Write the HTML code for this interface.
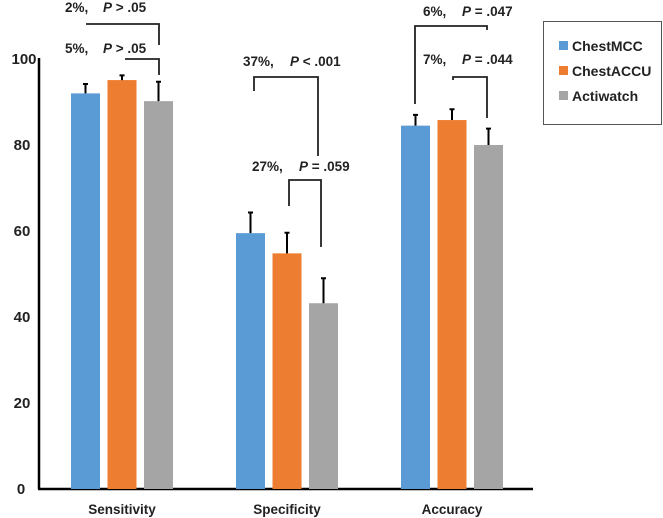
<!DOCTYPE html>
<html><head><meta charset="utf-8"><style>
body{margin:0;background:#fff}
svg{display:block;font-family:"Liberation Sans",sans-serif;font-weight:bold}
</style></head><body>
<svg width="663" height="518" viewBox="0 0 663 518" id="c">
<g id="marks"></g>
</svg>
<script>
const categories=["Sensitivity","Specificity","Accuracy"];
const series=["ChestMCC","ChestACCU","Actiwatch"];
const mccValues=[92.0,59.5,84.5];
const accuValues=[95.1,54.8,85.8];
const actiValues=[90.2,43.2,80.0];
const mccErr=[2.2,4.8,2.5];
const accuErr=[1.1,4.8,2.5];
const actiErr=[4.5,5.8,3.8];
const yTicks=[0,20,40,60,80,100];
const colors=["#5b9bd5","#ed7d31","#a5a5a5"];
const ns="http://www.w3.org/2000/svg";
const svg=document.getElementById('c');
const g=document.getElementById('marks');
const y0=489,ppu=4.3;
const y=v=>y0-v*ppu;
const groupX=i=>122+i*165;
const barW=29,step=36.5;
function mk(tag,attrs,parent){const e=document.createElementNS(ns,tag);for(const k in attrs)e.setAttribute(k,attrs[k]);(parent||g).appendChild(e);return e;}
let a=mk('line',{x1:39,y1:y(100)-1,x2:39,y2:y0,stroke:'#000','stroke-width':2.5});


a=mk('line',{x1:38,y1:y0,x2:533,y2:y0,stroke:'#000','stroke-width':2.5});


yTicks.forEach(t=>{const e=mk('text',{x:t===100?24:(t===0?21:22),y:y(t)+5,'text-anchor':'middle','font-size':15,fill:'#222'});e.textContent=t;

});
categories.forEach((c,i)=>{const e=mk('text',{x:groupX(i),y:514,'text-anchor':'middle','font-size':13.5,fill:'#222'});e.textContent=c;

});
const vals=[mccValues,accuValues,actiValues],errs=[mccErr,accuErr,actiErr];
vals.forEach((arr,s)=>arr.forEach((v,i)=>{
 const cx=groupX(i)+(s-1)*step;
 const r=mk('rect',{x:cx-barW/2,y:y(v),width:barW,height:y0-y(v),fill:colors[s]});
 
 
 const top=v+errs[s][i];
 const l=mk('path',{d:`M${cx},${y(v)}V${y(top)}M${cx-2.5},${y(top)}H${cx+2.5}`,stroke:'#000','stroke-width':2,fill:'none'});
 
 
}));
const br=[
 ["2%,","P > .05",65,103,12,"M86,24H159V45"],
 ["5%,","P > .05",65,103,53,"M125,59H159V75"],
 ["37%,","P < .001",243,290,66,"M254,91V77H318V156"],
 ["27%,","P = .059",252,299,171,"M289,206V180H321V247"],
 ["6%,","P = .047",423,462,16,"M415,104V26H487V30"],
 ["7%,","P = .044",423,462,64,"M453,80V77H487V118"]
];
br.forEach(b=>{
 const p=mk('path',{d:b[5],stroke:'#222','stroke-width':1.8,fill:'none'});
 
 
 const t=mk('text',{x:b[2],y:b[4],'font-size':13.5,fill:'#222'});t.textContent=b[0];
 
 
 const t2=mk('text',{x:b[3],y:b[4],'font-size':13.5,fill:'#222'});
 const it=mk('tspan',{'font-style':'italic'},t2);it.textContent='P';
 const rest=mk('tspan',{},t2);rest.textContent=' '+b[1].slice(2);
 
 
});
const lg=mk('g',{},svg);


mk('rect',{x:543.5,y:21.5,width:118,height:103,fill:'#fff',stroke:'#555','stroke-width':1},lg);
series.forEach((s,i)=>{
 const yy=46+i*25;
 const sq=mk('rect',{x:559,y:yy-5,width:9,height:9,fill:colors[i]},lg);
 
 
 const t=mk('text',{x:572,y:yy+5,'font-size':14,fill:'#222'},lg);t.textContent=s;
 
 
});
</script>
</body></html>
